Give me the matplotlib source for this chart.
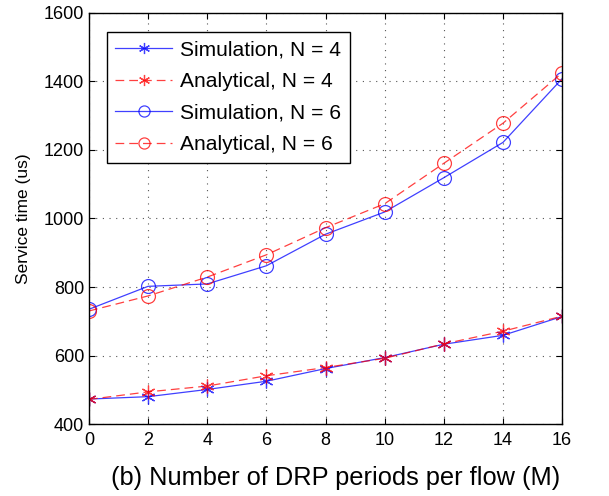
import matplotlib
matplotlib.use('Agg')
import matplotlib.pyplot as plt

plt.rcParams['font.family'] = ['Liberation Sans', 'DejaVu Sans']

m_values = [0, 2, 4, 6, 8, 10, 12, 14, 16]
sim_n4 = [473, 480, 501, 525, 562, 594, 633, 659, 714]
ana_n4 = [472, 494, 511, 541, 565, 592, 634, 671, 715]
sim_n6 = [735, 802, 809, 862, 954, 1019, 1119, 1222, 1408]
ana_n6 = [730, 774, 829, 894, 973, 1043, 1161, 1278, 1425]

fig = plt.figure(figsize=(6.09, 4.96), dpi=100)
ax = fig.add_axes([0.146, 0.145, 0.777, 0.829])

blue = '#0000ff'
red = '#ff0000'
star = (6, 2, 0)
ax.plot(m_values, sim_n4, '-', color=blue, marker=star, markersize=10, mew=0.9,
        linewidth=0.9, alpha=0.75, label='Simulation, N = 4')
ax.plot(m_values, ana_n4, '--', color=red, marker=star, markersize=10, mew=0.9,
        linewidth=0.9, alpha=0.75, dashes=(7, 4), label='Analytical, N = 4')
ax.plot(m_values, sim_n6, '-', color=blue, marker='o', markersize=10, mew=0.9,
        markerfacecolor='none', linewidth=0.9, alpha=0.75, label='Simulation, N = 6')
ax.plot(m_values, ana_n6, '--', color=red, marker='o', markersize=10, mew=0.9,
        markerfacecolor='none', linewidth=0.9, alpha=0.75, dashes=(7, 4), label='Analytical, N = 6')

ax.set_xlim(0, 16)
ax.set_ylim(400, 1600)
ax.set_xticks(range(0, 17, 2))
ax.set_yticks(range(400, 1601, 200))
ax.grid(True, color='#555555', linestyle=(0, (1, 5)), linewidth=0.8)
ax.tick_params(direction='in', labelsize=13, length=4, top=True, right=True)
ax.tick_params(axis='x', pad=6)
ax.tick_params(axis='y', pad=3.5)
for s in ax.spines.values():
    s.set_linewidth(1.0)

ax.set_ylabel('Service time (us)', fontsize=12.5, labelpad=9)
ax.set_xlabel('(b) Number of DRP periods per flow (M)', fontsize=18.3, labelpad=12)
ax.xaxis.label.set_x(0.521)

leg = ax.legend(loc='upper left', bbox_to_anchor=(0.038, 0.953), fontsize=15.1,
                frameon=True, fancybox=False, edgecolor='black', framealpha=1,
                borderaxespad=0, handlelength=2.7, handletextpad=0.4,
                labelspacing=0.6, borderpad=0.4, markerscale=0.8)
leg.get_frame().set_linewidth(1.0)

fig.savefig('out.png', dpi=100)
